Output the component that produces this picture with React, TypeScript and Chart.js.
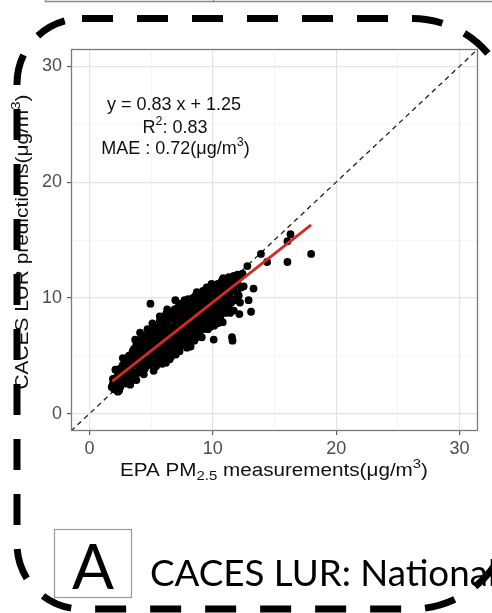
import React, { useEffect, useRef } from "react";
import { Chart, registerables } from "chart.js";

Chart.register(...registerables);

// ---- data ----
const axisMin = -1.5;
const axisMax = 31.5;
const tickValues = [0, 5, 10, 15, 20, 25, 30];
const majorTicks = [0, 10, 20, 30];

// [EPA PM2.5 measurement, CACES LUR prediction]
const scatterPoints: [number, number][] = [
  [1.8, 2.3], [1.9, 2.6], [2.0, 2.1], [2.1, 2.9], [2.2, 2.4], [2.3, 3.3], [2.1, 3.8], [2.4, 2.0], [2.5, 2.7],
  [2.6, 3.1], [2.0, 2.5], [2.3, 1.9], [1.9, 3.0], [2.2, 3.1], [2.6, 3.6], [2.4, 3.5], [2.8, 2.9],
  [2.7, 4.2], [2.8, 3.5], [2.9, 2.6], [3.0, 3.9], [3.1, 4.6], [3.2, 3.2], [3.3, 2.5], [3.4, 4.1], [3.5, 3.6],
  [2.7, 4.8], [3.0, 2.9], [3.3, 5.0], [3.5, 2.9], [3.0, 3.4], [3.4, 3.9], [3.2, 4.4], [3.6, 4.9],
  [3.6, 4.4], [3.7, 6.4], [3.8, 5.4], [3.9, 3.5], [4.0, 4.8], [4.1, 5.9], [4.2, 3.9], [4.3, 5.2], [4.4, 6.6],
  [4.5, 4.4], [3.8, 2.9], [4.0, 6.0], [4.2, 4.6], [4.4, 3.4], [3.6, 5.6], [4.1, 7.0], [3.8, 4.6], [4.2, 5.2],
  [4.4, 5.6], [4.6, 5.8], [4.7, 7.3], [4.8, 4.2], [4.9, 6.3], [5.0, 5.1], [5.1, 7.8], [5.2, 3.7], [5.3, 6.7],
  [5.4, 5.5], [5.5, 4.6], [4.94, 9.5], [4.6, 6.7], [5.0, 6.0], [5.2, 7.1], [5.4, 4.1], [4.8, 5.3], [5.3, 5.9],
  [5.5, 7.4], [4.6, 5.0], [5.0, 6.3], [5.4, 6.1], [5.2, 5.4], [4.8, 6.6],
  [5.6, 6.2], [5.7, 8.4], [5.8, 5.0], [5.9, 7.0], [6.0, 5.7], [6.1, 8.0], [6.2, 4.4], [6.3, 6.6], [6.4, 7.6],
  [6.5, 5.3], [5.7, 7.5], [5.9, 4.3], [6.0, 6.5], [6.2, 8.6], [6.3, 5.6], [6.5, 7.1], [5.6, 5.4], [6.1, 7.2],
  [6.4, 6.1], [5.8, 6.8], [5.8, 5.9], [6.2, 6.9], [5.6, 6.6], [6.0, 7.3], [6.3, 9.0], [6.4, 6.6],
  [6.6, 8.2], [6.7, 6.0], [6.8, 7.0], [6.96, 9.8], [7.0, 5.1], [7.1, 7.6], [7.2, 6.4], [7.3, 8.7], [7.4, 5.9],
  [7.5, 7.2], [6.6, 4.9], [6.8, 8.8], [7.0, 6.8], [7.2, 9.2], [7.4, 6.8], [6.7, 7.4], [6.9, 6.3], [7.1, 8.3],
  [7.3, 5.4], [7.5, 8.0], [6.6, 6.7], [7.0, 7.9], [6.6, 7.4], [6.8, 7.5], [7.2, 7.6], [7.4, 7.4],
  [7.6, 6.5], [7.7, 8.8], [7.8, 7.4], [7.9, 5.7], [8.0, 8.1], [8.1, 9.6], [8.2, 6.9], [8.3, 7.8], [8.4, 10.0],
  [8.5, 6.3], [7.6, 9.4], [7.8, 6.0], [8.0, 7.0], [8.2, 9.0], [8.4, 7.3], [7.7, 7.9], [7.9, 8.6], [8.1, 6.2],
  [8.3, 8.5], [8.5, 9.4], [7.6, 7.6], [8.0, 9.9], [8.2, 5.8], [8.4, 8.2], [7.6, 8.3], [8.0, 8.6], [8.4, 8.8],
  [7.8, 8.2],
  [8.6, 8.0], [8.7, 10.5], [8.8, 7.1], [8.9, 9.2], [9.0, 8.5], [9.1, 6.6], [9.2, 10.2], [9.3, 7.7], [9.4, 9.0],
  [9.5, 7.7], [8.6, 9.8], [8.8, 8.7], [9.0, 10.0], [9.2, 8.2], [9.4, 10.6], [8.7, 7.4], [8.9, 6.8], [9.1, 9.5],
  [9.3, 8.9], [9.5, 10.3], [8.6, 6.9], [9.0, 7.3], [9.2, 9.6], [9.4, 8.1], [8.8, 9.3], [9.2, 8.8], [8.6, 8.5],
  [9.0, 9.1],
  [9.6, 9.4], [9.7, 10.8], [9.8, 8.3], [9.9, 10.1], [10.0, 9.0], [10.1, 11.0], [10.2, 7.9], [10.3, 9.7],
  [10.4, 10.6], [10.5, 8.9], [9.6, 8.6], [9.8, 9.7], [10.0, 10.7], [10.07, 6.4], [10.2, 9.3], [10.4, 8.4],
  [9.7, 7.7], [9.9, 11.2], [10.1, 8.6], [10.3, 10.9], [10.5, 10.0], [9.6, 10.0], [10.0, 9.6], [10.4, 9.9],
  [9.8, 10.4], [10.2, 10.3],
  [10.6, 9.7], [10.7, 11.4], [10.8, 8.8], [10.9, 10.5], [11.0, 9.4], [11.1, 11.0], [11.2, 8.9], [11.3, 10.2],
  [11.4, 11.5], [11.5, 9.6], [10.6, 8.3], [10.85, 11.7], [11.0, 10.1], [11.2, 10.6], [11.4, 8.7], [11.55, 6.6],
  [11.6, 6.3], [10.7, 10.2], [10.8, 10.2], [11.2, 11.3], [11.6, 10.6], [10.6, 10.9], [11.0, 11.3],
  [11.7, 10.9], [11.8, 9.8], [11.9, 11.6], [12.0, 10.4], [12.1, 11.8], [12.2, 9.6], [12.4, 12.1], [12.5, 11.0],
  [12.15, 8.6], [11.8, 11.2], [12.3, 10.9],
  // dense interior of the band
  [2.5, 3.9], [2.5, 2.3], [2.9, 4.3], [2.9, 3.2], [2.9, 3.8], [3.2, 5.0], [3.2, 2.8], [3.3, 3.6],
  [3.5, 4.6], [3.5, 5.4], [3.5, 3.3], [3.8, 6.0], [3.9, 4.2], [3.9, 5.0], [4.1, 4.1], [4.1, 5.3], [4.0, 3.7],
  [4.1, 6.4], [4.4, 6.1], [4.5, 5.1], [4.5, 3.9], [4.3, 4.6], [4.7, 6.1], [4.7, 4.6], [4.7, 6.8], [4.8, 5.8],
  [5.0, 4.5], [5.0, 7.2], [5.1, 6.6], [5.1, 5.7], [5.3, 5.1], [5.3, 7.5], [5.4, 6.8], [5.3, 4.4],
  [5.6, 7.0], [5.6, 4.8], [5.7, 6.0], [5.7, 8.0], [5.9, 5.5], [5.9, 7.6], [5.9, 6.4], [6.0, 4.9],
  [6.2, 5.2], [6.2, 7.6], [6.1, 6.1], [6.3, 8.2], [6.5, 6.0], [6.5, 8.5], [6.5, 6.6], [6.5, 4.7],
  [6.8, 6.3], [6.8, 8.2], [6.9, 5.5], [6.9, 9.0], [7.1, 6.0], [7.1, 7.0], [7.1, 9.1], [7.2, 5.6],
  [7.4, 8.5], [7.4, 6.3], [7.4, 9.5], [7.5, 6.6], [7.7, 7.2], [7.7, 6.1], [7.7, 9.8], [7.8, 8.9],
  [8.0, 7.5], [8.0, 6.5], [8.0, 9.4], [8.1, 8.4], [8.3, 7.0], [8.3, 9.7], [8.3, 6.4], [8.2, 8.2],
  [8.6, 7.5], [8.6, 10.2], [8.7, 9.0], [8.7, 6.6], [8.9, 8.0], [8.9, 10.3], [8.9, 7.5], [9.0, 9.6],
  [9.2, 7.3], [9.2, 10.6], [9.3, 9.3], [9.3, 8.3], [9.5, 8.6], [9.5, 9.5], [9.5, 10.9], [9.6, 7.3],
  [9.8, 9.0], [9.8, 11.0], [9.8, 7.5], [9.9, 9.6], [10.1, 9.9], [10.1, 10.5], [10.1, 7.6], [10.2, 8.7],
  [10.4, 11.2], [10.4, 9.3], [10.4, 7.8], [10.5, 9.5], [10.7, 9.2], [10.7, 10.8], [10.8, 11.6], [10.8, 7.9],
  [11.0, 10.8], [11.0, 8.7], [11.1, 9.8], [11.1, 11.6], [11.3, 9.3], [11.3, 11.1], [11.3, 11.8], [11.4, 10.0],
  [11.6, 11.5], [11.6, 9.9], [11.7, 11.9], [11.7, 8.9], [12.0, 11.3], [12.0, 12.0], [12.1, 10.2],
  // outliers
  [12.8, 12.75], [12.9, 9.8], [13.1, 8.8], [13.3, 10.8], [13.9, 13.8], [14.4, 13.1], [16.05, 13.1],
  [16.05, 14.9], [16.3, 15.5], [17.97, 13.8],
];

// fitted regression line end points (y = 0.83 x + 1.25)
const fitLineX = [1.84, 17.97];
const fitLineY = [2.78, 16.3];
// identity (1:1) line
const identityX = [-1.5, 31.5];
const identityY = [-1.5, 31.5];

const annoEquation = "y = 0.83 x + 1.25";
const annoR2 = "0.83";
const annoMAE = "0.72";
const xTitleParts = ["EPA PM", "2.5", " measurements(\u03bcg/m", "3", ")"];
const yTitleParts = ["CACES LUR predictions(\u03bcg/m", "3", ")"];
const panelLetter = "A";
const panelCaption = "CACES LUR: National";

const SANS = '"Liberation Sans", Arial, sans-serif';
const CAPTION_FONT = 'Lato, "Open Sans", sans-serif';

type Seg = { t: string; size: number; dy: number };

function drawSegs(
  ctx: CanvasRenderingContext2D,
  segs: Seg[],
  x: number,
  y: number,
  family: string,
  targetWidth?: number
) {
  let w = 0;
  const widths: number[] = [];
  for (const s of segs) {
    ctx.font = `${s.size}px ${family}`;
    const m = ctx.measureText(s.t).width;
    widths.push(m);
    w += m;
  }
  const sx = targetWidth ? targetWidth / w : 1;
  ctx.save();
  ctx.translate(x, y);
  ctx.scale(sx, 1);
  let cx = -w / 2;
  ctx.textAlign = "left";
  ctx.textBaseline = "alphabetic";
  segs.forEach((s, i) => {
    ctx.font = `${s.size}px ${family}`;
    ctx.fillText(s.t, cx, s.dy);
    cx += widths[i];
  });
  ctx.restore();
}

const overlay = {
  id: "overlay",
  afterDraw(chart: any) {
    const ctx: CanvasRenderingContext2D = chart.ctx;
    const { left, top, right, bottom } = chart.chartArea;
    ctx.save();

    // panel border
    ctx.strokeStyle = "#7a7a7a";
    ctx.lineWidth = 1.3;
    ctx.setLineDash([]);
    ctx.strokeRect(left + 0.5, top + 0.5, right - left - 1, bottom - top - 1);

    ctx.fillStyle = "#111";
    // annotations
    const fs = 18;
    drawSegs(ctx, [{ t: annoEquation, size: fs, dy: 0 }], 174, 110, SANS);
    drawSegs(
      ctx,
      [
        { t: "R", size: fs, dy: 0 },
        { t: "2", size: fs * 0.7, dy: -8 },
        { t: ": " + annoR2, size: fs, dy: 0 },
      ],
      175,
      133,
      SANS
    );
    drawSegs(
      ctx,
      [
        { t: "MAE : " + annoMAE + "(\u03bcg/m", size: fs, dy: 0 },
        { t: "3", size: fs * 0.7, dy: -8 },
        { t: ")", size: fs, dy: 0 },
      ],
      175.5,
      154,
      SANS
    );

    // x title
    drawSegs(
      ctx,
      [
        { t: xTitleParts[0], size: 18, dy: 0 },
        { t: xTitleParts[1], size: 13, dy: 4 },
        { t: xTitleParts[2], size: 18, dy: 0 },
        { t: xTitleParts[3], size: 13, dy: -8 },
        { t: xTitleParts[4], size: 18, dy: 0 },
      ],
      274,
      476,
      SANS,
      308
    );

    // y title (rotated)
    ctx.save();
    ctx.translate(28, 242);
    ctx.rotate(-Math.PI / 2);
    drawSegs(
      ctx,
      [
        { t: yTitleParts[0], size: 18, dy: 0 },
        { t: yTitleParts[1], size: 13, dy: -8 },
        { t: yTitleParts[2], size: 18, dy: 0 },
      ],
      0,
      0,
      SANS,
      295
    );
    ctx.restore();

    // top neighbour-panel edge
    ctx.strokeStyle = "#8a8a8a";
    ctx.lineWidth = 1.3;
    ctx.beginPath();
    ctx.moveTo(45.5, -2);
    ctx.lineTo(45.5, 1.5);
    ctx.lineTo(495, 1.5);
    ctx.moveTo(213.5, -2);
    ctx.lineTo(213.5, 2.5);
    ctx.stroke();

    // panel letter box
    ctx.strokeStyle = "#9a9a9a";
    ctx.lineWidth = 1.2;
    ctx.strokeRect(54.5, 529.5, 77, 68);
    ctx.fillStyle = "#000";
    ctx.font = `62px ${CAPTION_FONT}`;
    ctx.textAlign = "center";
    ctx.textBaseline = "alphabetic";
    ctx.fillText(panelLetter, 93, 589);

    // caption (fit so that "...Nationa" spans the same width as the reference)
    ctx.font = `40px ${CAPTION_FONT}`;
    const wRef = ctx.measureText(panelCaption.slice(0, panelCaption.length - 1)).width;
    const capSize = (40 * 338) / wRef;
    ctx.font = `${capSize}px ${CAPTION_FONT}`;
    ctx.textAlign = "left";
    ctx.fillText(panelCaption, 150, 586);

    // dashed rounded frame
    const fl = 17, ft = 18.5, fr = 512, fb = 609;
    const rL = 65, rR = 100;
    ctx.strokeStyle = "#000";
    ctx.lineWidth = 7;
    ctx.setLineDash([31, 24]);
    ctx.lineCap = "butt";
    ctx.beginPath();
    ctx.moveTo(fl + rL, ft);
    ctx.lineTo(fr - rR, ft);
    ctx.arcTo(fr, ft, fr, ft + rR, rR);
    ctx.lineTo(fr, fb - rR);
    ctx.arcTo(fr, fb, fr - rR, fb, rR);
    ctx.lineTo(fl + rL, fb);
    ctx.arcTo(fl, fb, fl, fb - rL, rL);
    ctx.lineTo(fl, ft + rL);
    ctx.arcTo(fl, ft, fl + rL, ft, rL);
    ctx.closePath();
    ctx.stroke();

    ctx.restore();
  },
};

function axisConfig(isX: boolean) {
  return {
    type: "linear" as const,
    min: axisMin,
    max: axisMax,
    afterBuildTicks: (scale: any) => {
      scale.ticks = tickValues.map((v) => ({ value: v }));
    },
    afterFit: (scale: any) => {
      if (isX) scale.height = 182;
      else scale.width = 71;
    },
    border: { display: false },
    grid: {
      drawTicks: true,
      tickLength: 4,
      tickWidth: 1.1,
      tickColor: (c: any) => (c.tick && majorTicks.includes(c.tick.value) ? "#555" : "rgba(0,0,0,0)"),
      color: (c: any) => (c.tick && majorTicks.includes(c.tick.value) ? "#e4e4e4" : "#f0f0f0"),
      lineWidth: (c: any) => (c.tick && majorTicks.includes(c.tick.value) ? 1.2 : 0.7),
    },
    ticks: {
      autoSkip: false,
      maxRotation: 0,
      minRotation: 0,
      padding: isX ? 3 : 5,
      color: "#4d4d4d",
      font: { family: SANS, size: 18 },
      callback: (v: any) => (majorTicks.includes(Number(v)) ? String(v) : ""),
    },
  };
}

export default function App() {
  const ref = useRef<HTMLCanvasElement | null>(null);
  useEffect(() => {
    if (!ref.current) return;
    const chart = new Chart(ref.current, {
      type: "scatter",
      data: {
        datasets: [
          {
            type: "line",
            data: fitLineX.map((x, i) => ({ x, y: fitLineY[i] })),
            borderColor: "#d42a22",
            borderWidth: 2.8,
            pointRadius: 0,
            order: 0,
          } as any,
          {
            type: "scatter",
            data: scatterPoints.map(([x, y]) => ({ x, y })),
            backgroundColor: "#000",
            borderColor: "#000",
            borderWidth: 0,
            pointRadius: 3.9,
            order: 1,
          },
          {
            type: "line",
            data: identityX.map((x, i) => ({ x, y: identityY[i] })),
            borderColor: "#222",
            borderWidth: 1.3,
            borderDash: [5, 4],
            pointRadius: 0,
            order: 2,
          } as any,
        ],
      },
      options: {
        animation: false,
        responsive: false,
        devicePixelRatio: 1,
        events: [],
        layout: { padding: { left: 0, top: 49, right: 14, bottom: 0 } },
        plugins: { legend: { display: false }, tooltip: { enabled: false }, title: { display: false } },
        scales: { x: axisConfig(true), y: axisConfig(false) } as any,
      },
      plugins: [overlay],
    });
    return () => chart.destroy();
  }, []);
  return (
    <div style={{ position: "fixed", left: 0, top: 0, width: 492, height: 613, background: "#fff" }}>
      <canvas ref={ref} width={492} height={613} style={{ width: 492, height: 613, display: "block" }} />
    </div>
  );
}
